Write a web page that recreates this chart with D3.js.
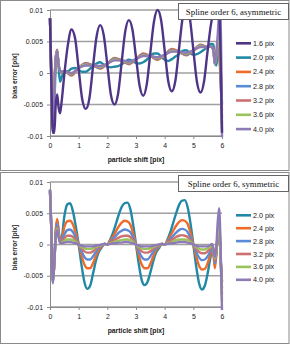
<!DOCTYPE html>
<html>
<head>
<meta charset="utf-8">
<script src="https://cdn.jsdelivr.net/npm/d3@7"></script>
<style>
  body { margin: 0; background: #fff; }
  svg { display: block; }
</style>
</head>
<body>
<div id="chart"></div>
<script>
// ---- data ----

const yTicks = [-0.01, -0.005, 0, 0.005, 0.01];
const yTickLabels = ["-0.01", "-0.005", "0", "0.005", "0.01"];
const xTicks = [0, 1, 2, 3, 4, 5, 6];

// top panel (asymmetric), fine grid for 1.6 and 2.0 pix
const shiftA = [0, 0.05, 0.1, 0.15, 0.2, 0.25, 0.3, 0.35, 0.4,
  0.5, 0.625, 0.75, 0.875, 1, 1.125, 1.25, 1.375, 1.5, 1.625, 1.75, 1.875,
  2, 2.125, 2.25, 2.375, 2.5, 2.625, 2.75, 2.875, 3, 3.125, 3.25, 3.375, 3.5, 3.625, 3.75, 3.875,
  4, 4.125, 4.25, 4.375, 4.5, 4.625, 4.75, 4.875, 5, 5.125, 5.25, 5.375, 5.5,
  5.625, 5.7, 5.75, 5.8, 5.85, 5.9, 5.95, 6];
const asym16 = [0.0087, -0.002, -0.0095, -0.0095, -0.005, -0.0034, -0.0055, -0.0064, -0.0048,
  -0.0002, 0.0045, 0.0069, 0.0055, 0.0006, -0.0042, -0.0057, -0.0040, 0.0010, 0.0058, 0.0076, 0.0060,
  0.0013, -0.0035, -0.0050, -0.0033, 0.0017, 0.0066, 0.0084, 0.0069, 0.0025, -0.0020, -0.0036, -0.0018, 0.0032, 0.0081, 0.0100, 0.0084,
  0.0036, -0.0013, -0.0029, -0.0012, 0.0038, 0.0087, 0.0105, 0.0088, 0.0037, -0.0014, -0.0031, -0.0013, 0.0036,
  0.0080, 0.0095, 0.0097, 0.0090, 0.0086, 0.0094, 0.0030, -0.0095];
const asym20 = [0.0087, -0.001, -0.0065, -0.005, 0.0015, 0.0035, 0.001, -0.0014, -0.0008,
  0.0003, 0.0003, 0.0007, 0.0008, 0.0005, 0.0002, 0.0002, 0.0006, 0.0011, 0.0015, 0.0017, 0.0013,
  0.0010, 0.0009, 0.0010, 0.0011, 0.0014, 0.0018, 0.0021, 0.0019, 0.0016, 0.0015, 0.0017, 0.0021, 0.0027, 0.0031, 0.0031, 0.0026,
  0.0021, 0.0019, 0.0022, 0.0026, 0.0030, 0.0035, 0.0036, 0.0032, 0.0029, 0.0030, 0.0033, 0.0037, 0.0041,
  0.0046, 0.0045, 0.0020, 0.0012, 0.0030, 0.0038, 0.0010, -0.0050];

// top panel, coarser grid for the 2.4 - 4.0 pix band
const shiftB = [0, 0.05, 0.1, 0.15, 0.2, 0.25, 0.3, 0.4,
  0.5, 0.75, 1, 1.25, 1.5, 1.75, 2, 2.25, 2.5, 2.75, 3, 3.25, 3.5, 3.75, 4, 4.25, 4.5, 4.75, 5, 5.25, 5.5,
  5.6, 5.7, 5.75, 5.8, 5.85, 5.9, 5.95, 6];
const asym24 = [0.0087, -0.001, -0.0068, -0.002, 0.0025, 0.0037, 0.0012, 0.0001,
  0.0003, -0.0004, 0.0008, 0.0016, 0.0012, 0.0007, 0.0015, 0.0024, 0.0020, 0.0014, 0.0022, 0.0031, 0.0027, 0.0021, 0.0029, 0.0038, 0.0034, 0.0028, 0.0036, 0.0045, 0.0041,
  0.0042, 0.0038, 0.0014, 0.0025, 0.0040, 0.0030, -0.0010, -0.0060];
const asym28 = [0.0087, -0.001, -0.0070, -0.0022, 0.0024, 0.0036, 0.0012, 0.0002,
  0.0003, -0.0003, 0.0008, 0.0015, 0.0012, 0.0008, 0.0015, 0.0023, 0.0020, 0.0015, 0.0022, 0.0030, 0.0027, 0.0022, 0.0029, 0.0037, 0.0034, 0.0029, 0.0036, 0.0044, 0.0041,
  0.0042, 0.0037, 0.0014, 0.0027, 0.0042, 0.0035, -0.0005, -0.0070];
const asym32 = [0.0087, -0.0015, -0.0075, -0.0024, 0.0023, 0.0035, 0.0012, 0.0002,
  0.0003, -0.0002, 0.0008, 0.0014, 0.0012, 0.0009, 0.0015, 0.0022, 0.0020, 0.0016, 0.0022, 0.0029, 0.0027, 0.0023, 0.0029, 0.0036, 0.0034, 0.0030, 0.0036, 0.0043, 0.0041,
  0.0042, 0.0037, 0.0015, 0.0028, 0.0045, 0.0045, 0.0005, -0.0080];
const asym36 = [0.0087, -0.002, -0.0080, -0.0026, 0.0022, 0.0034, 0.0012, 0.0002,
  0.0003, -0.0001, 0.0008, 0.0013, 0.0012, 0.0010, 0.0015, 0.0021, 0.0020, 0.0017, 0.0022, 0.0028, 0.0027, 0.0024, 0.0029, 0.0035, 0.0034, 0.0031, 0.0036, 0.0042, 0.0041,
  0.0042, 0.0036, 0.0015, 0.0029, 0.0050, 0.0060, 0.0020, -0.0090];
const asym40 = [0.0087, -0.003, -0.0095, -0.0030, 0.0020, 0.0034, 0.0012, 0.0002,
  0.0003, 0.0000, 0.0008, 0.0012, 0.0012, 0.0011, 0.0015, 0.0020, 0.0020, 0.0018, 0.0022, 0.0027, 0.0027, 0.0025, 0.0029, 0.0034, 0.0034, 0.0032, 0.0036, 0.0041, 0.0041,
  0.0042, 0.0036, 0.0015, 0.0032, 0.0060, 0.0092, 0.0085, -0.0102];

// bottom panel (symmetric)
const shiftC = [0, 0.05, 0.1, 0.15, 0.2, 0.25, 0.3, 0.35,
  0.4, 0.5, 0.6, 0.7, 0.8, 0.9,
  1.0, 1.1, 1.2, 1.3, 1.4, 1.5, 1.6, 1.7, 1.8, 1.9,
  2.0, 2.1, 2.2, 2.3, 2.4, 2.5, 2.6, 2.7, 2.8, 2.9,
  3.0, 3.1, 3.2, 3.3, 3.4, 3.5, 3.6, 3.7, 3.8, 3.9,
  4.0, 4.1, 4.2, 4.3, 4.4, 4.5, 4.6, 4.7, 4.8, 4.9,
  5.0, 5.1, 5.2, 5.3, 5.4, 5.5, 5.6,
  5.65, 5.7, 5.75, 5.8, 5.85, 5.9, 5.95, 6];
const sym20 = [0.0085, 0.0020, -0.0055, -0.0030, 0.0020, 0.0038, 0.0022, 0.0006,
  0.0008, 0.0045, 0.0064, 0.0066, 0.0053, 0.0029,
  0.0000, -0.0033, -0.0060, -0.0071, -0.0066, -0.0047, -0.0026, -0.0012, -0.0005, 0.0001,
  0.0000, 0.0008, 0.0019, 0.0033, 0.0048, 0.0060, 0.0066, 0.0067, 0.0057, 0.0032,
  0.0000, -0.0032, -0.0057, -0.0065, -0.0060, -0.0045, -0.0027, -0.0013, -0.0006, 0.0001,
  0.0000, 0.0008, 0.0020, 0.0035, 0.0050, 0.0063, 0.0070, 0.0071, 0.0060, 0.0034,
  0.0000, -0.0035, -0.0062, -0.0072, -0.0066, -0.0046, -0.0020,
  -0.0010, -0.0012, -0.0030, -0.0015, 0.0015, 0.0030, -0.0020, -0.0060];
const sym24 = [0.0086, 0.0020, -0.0058, -0.0030, 0.0022, 0.0041, 0.0022, 0.0005,
  0.0006, 0.0028, 0.0037, 0.0038, 0.0032, 0.0018,
  0.0000, -0.0018, -0.0032, -0.0038, -0.0038, -0.0030, -0.0018, -0.0009, -0.0004, 0.0001,
  0.0000, 0.0006, 0.0013, 0.0021, 0.0029, 0.0035, 0.0038, 0.0037, 0.0032, 0.0018,
  0.0000, -0.0018, -0.0032, -0.0038, -0.0038, -0.0031, -0.0019, -0.0009, -0.0004, 0.0001,
  0.0000, 0.0006, 0.0014, 0.0022, 0.0030, 0.0036, 0.0039, 0.0038, 0.0033, 0.0019,
  0.0000, -0.0019, -0.0034, -0.0040, -0.0039, -0.0030, -0.0015,
  -0.0006, -0.0015, -0.0038, -0.0018, 0.0015, 0.0030, -0.0020, -0.0060];
const sym28 = [0.0087, 0.0020, -0.0060, -0.0030, 0.0018, 0.0033, 0.0018, 0.0004,
  0.0005, 0.0016, 0.0023, 0.0024, 0.0020, 0.0011,
  0.0000, -0.0011, -0.0020, -0.0024, -0.0024, -0.0019, -0.0012, -0.0006, -0.0003, 0.0001,
  0.0000, 0.0004, 0.0009, 0.0014, 0.0019, 0.0022, 0.0024, 0.0023, 0.0020, 0.0011,
  0.0000, -0.0011, -0.0020, -0.0024, -0.0024, -0.0019, -0.0012, -0.0006, -0.0003, 0.0001,
  0.0000, 0.0004, 0.0009, 0.0014, 0.0019, 0.0023, 0.0025, 0.0024, 0.0020, 0.0011,
  0.0000, -0.0012, -0.0021, -0.0025, -0.0024, -0.0019, -0.0010,
  -0.0004, -0.0012, -0.0030, -0.0015, 0.0015, 0.0035, -0.0020, -0.0070];
const sym32 = [0.0087, 0.0020, -0.0060, -0.0030, 0.0015, 0.0028, 0.0015, 0.0004,
  0.0004, 0.0010, 0.0014, 0.0014, 0.0012, 0.0007,
  0.0000, -0.0006, -0.0011, -0.0013, -0.0013, -0.0011, -0.0007, -0.0004, -0.0002, 0.0001,
  0.0000, 0.0003, 0.0006, 0.0009, 0.0011, 0.0013, 0.0014, 0.0014, 0.0012, 0.0007,
  0.0000, -0.0006, -0.0011, -0.0013, -0.0013, -0.0011, -0.0007, -0.0004, -0.0002, 0.0001,
  0.0000, 0.0003, 0.0006, 0.0009, 0.0012, 0.0014, 0.0015, 0.0014, 0.0012, 0.0007,
  0.0000, -0.0007, -0.0012, -0.0014, -0.0014, -0.0011, -0.0006,
  -0.0002, -0.0010, -0.0026, -0.0012, 0.0018, 0.0040, -0.0020, -0.0080];
const sym36 = [0.0088, 0.0020, -0.0061, -0.0030, 0.0013, 0.0025, 0.0013, 0.0003,
  0.0003, 0.0006, 0.0008, 0.0008, 0.0007, 0.0004,
  0.0000, -0.0004, -0.0006, -0.0007, -0.0007, -0.0006, -0.0004, -0.0002, -0.0001, 0.0001,
  0.0000, 0.0002, 0.0003, 0.0005, 0.0006, 0.0007, 0.0008, 0.0008, 0.0007, 0.0004,
  0.0000, -0.0004, -0.0006, -0.0007, -0.0007, -0.0006, -0.0004, -0.0002, -0.0001, 0.0001,
  0.0000, 0.0002, 0.0003, 0.0005, 0.0007, 0.0008, 0.0008, 0.0008, 0.0007, 0.0004,
  0.0000, -0.0004, -0.0007, -0.0008, -0.0008, -0.0006, -0.0003,
  0.0000, -0.0008, -0.0022, -0.0010, 0.0020, 0.0045, -0.0020, -0.0090];
const sym40 = [0.0088, 0.0020, -0.0062, -0.0030, 0.0012, 0.0023, 0.0012, 0.0003,
  0.0002, 0.0003, 0.0004, 0.0004, 0.0003, 0.0002,
  0.0000, -0.0002, -0.0003, -0.0003, -0.0003, -0.0003, -0.0002, -0.0001, 0.0000, 0.0001,
  0.0000, 0.0001, 0.0002, 0.0002, 0.0003, 0.0003, 0.0004, 0.0004, 0.0003, 0.0002,
  0.0000, -0.0002, -0.0003, -0.0003, -0.0003, -0.0003, -0.0002, -0.0001, 0.0000, 0.0001,
  0.0000, 0.0001, 0.0002, 0.0002, 0.0003, 0.0004, 0.0004, 0.0004, 0.0003, 0.0002,
  0.0000, -0.0002, -0.0003, -0.0003, -0.0003, -0.0003, -0.0001,
  0.0001, -0.0006, -0.0020, -0.0005, 0.0035, 0.0058, 0.0000, -0.0105];

const colors = {
  "1.6 pix": "#4e3587", "2.0 pix": "#2189a6", "2.4 pix": "#ef6b2b", "2.8 pix": "#5b8ad6",
  "3.2 pix": "#cc7070", "3.6 pix": "#9bc35b", "4.0 pix": "#8f7ab8"
};

const width = 290, height = 345;

const svg = d3.select("#chart").append("svg")
  .attr("width", width)
  .attr("height", height);

const x = d3.scaleLinear().domain([0, 6]).range([50, 222]);

function drawPanel(p) {
  const g = svg.append("g");

  // chart area frame
  g.append("rect")
    .attr("x", 0.5).attr("y", p.boxTop + 0.5)
    .attr("width", 288.5).attr("height", p.boxHeight)
    .attr("fill", "#fff").attr("stroke", "#8a8a8a");

  const y = d3.scaleLinear().domain([-0.01, 0.01]).range(p.yRange);

  // horizontal gridlines
  g.append("g").selectAll("line")
    .data(yTicks)
    .join("line")
    .attr("x1", x(0)).attr("x2", x(6))
    .attr("y1", d => y(d)).attr("y2", d => y(d))
    .attr("stroke", "#a0a0a0").attr("stroke-width", 1.6);

  // y axis
  const yAxis = g.append("g")
    .attr("transform", `translate(${x(0)},0)`)
    .call(d3.axisLeft(y).tickValues(yTicks)
      .tickFormat((d, i) => yTickLabels[i])
      .tickSize(3).tickSizeOuter(0).tickPadding(4));
  yAxis.select(".domain").attr("stroke", "#8a8a8a");
  yAxis.selectAll(".tick line").attr("stroke", "#8a8a8a");
  yAxis.selectAll("text").attr("font-family", "Liberation Sans, Arial, sans-serif")
    .attr("font-size", 6.9).attr("fill", "#1a1a1a");

  // x axis at the bottom of the plot
  const xAxis = g.append("g")
    .attr("transform", `translate(0,${y(-0.01)})`)
    .call(d3.axisBottom(x).tickValues(xTicks).tickFormat(d3.format("d"))
      .tickSize(3).tickSizeOuter(0).tickPadding(4));
  xAxis.select(".domain").attr("stroke", "#8a8a8a");
  xAxis.selectAll(".tick line").attr("stroke", "#8a8a8a");
  xAxis.selectAll("text").attr("font-family", "Liberation Sans, Arial, sans-serif")
    .attr("font-size", 6.9).attr("fill", "#1a1a1a");

  // axis titles
  g.append("text")
    .attr("x", 136).attr("y", y(-0.01) + 25.5)
    .attr("text-anchor", "middle")
    .attr("font-family", "Liberation Sans, Arial, sans-serif")
    .attr("font-size", 6.8).attr("font-weight", "bold").attr("fill", "#1a1a1a")
    .text("particle shift [pix]");
  g.append("text")
    .attr("transform", `translate(17,${y(0) + 3}) rotate(-90)`)
    .attr("text-anchor", "middle")
    .attr("font-family", "Liberation Sans, Arial, sans-serif")
    .attr("font-size", 6.5).attr("font-weight", "bold").attr("fill", "#1a1a1a")
    .text("bias error [pix]");

  // data lines
  const line = d3.line()
    .x(d => x(d[0]))
    .y(d => y(d[1]))
    .curve(d3.curveMonotoneX);

  g.append("g").selectAll("path")
    .data(p.drawOrder)
    .join("path")
    .attr("d", s => line(d3.zip(s.shift, s.values)))
    .attr("fill", "none")
    .attr("stroke", s => colors[s.name])
    .attr("stroke-width", 2.4)
    .attr("stroke-linejoin", "round");

  // legend
  const leg = g.append("g").selectAll("g")
    .data(p.series)
    .join("g")
    .attr("transform", (s, i) => `translate(236,${p.legendTop + i * p.legendStep})`);
  leg.append("line")
    .attr("x1", 0).attr("x2", 15)
    .attr("stroke", s => colors[s.name])
    .attr("stroke-width", 2.6);
  leg.append("text")
    .attr("x", 17).attr("dy", "0.35em")
    .attr("font-family", "Liberation Sans, Arial, sans-serif")
    .attr("font-size", 7.2).attr("fill", "#1a1a1a")
    .text(s => s.name);

  // title box
  g.append("rect")
    .attr("x", 178.5).attr("y", p.boxTop + 3.5)
    .attr("width", 110).attr("height", 16)
    .attr("fill", "#fff").attr("stroke", "#666");
  g.append("text")
    .attr("x", 233.5).attr("y", p.boxTop + 15)
    .attr("text-anchor", "middle")
    .attr("font-family", "Liberation Serif, Times New Roman, serif")
    .attr("font-size", 8.8).attr("fill", "#111")
    .text(p.title);
}

const topSeries = [
  { name: "1.6 pix", shift: shiftA, values: asym16 },
  { name: "2.0 pix", shift: shiftA, values: asym20 },
  { name: "2.4 pix", shift: shiftB, values: asym24 },
  { name: "2.8 pix", shift: shiftB, values: asym28 },
  { name: "3.2 pix", shift: shiftB, values: asym32 },
  { name: "3.6 pix", shift: shiftB, values: asym36 },
  { name: "4.0 pix", shift: shiftB, values: asym40 }
];
const bottomSeries = [
  { name: "2.0 pix", shift: shiftC, values: sym20 },
  { name: "2.4 pix", shift: shiftC, values: sym24 },
  { name: "2.8 pix", shift: shiftC, values: sym28 },
  { name: "3.2 pix", shift: shiftC, values: sym32 },
  { name: "3.6 pix", shift: shiftC, values: sym36 },
  { name: "4.0 pix", shift: shiftC, values: sym40 }
];

drawPanel({
  boxTop: 0, boxHeight: 170,
  yRange: [136, 10],
  series: topSeries,
  // the 1.6 pix curve sits over the band in the picture
  drawOrder: topSeries.slice(1).concat([topSeries[0]]),
  legendTop: 43.3, legendStep: 14.3,
  title: "Spline order 6, asymmetric"
});

drawPanel({
  boxTop: 172, boxHeight: 171,
  yRange: [307, 182],
  series: bottomSeries,
  drawOrder: bottomSeries,
  legendTop: 215.3, legendStep: 12.9,
  title: "Spline order 6, symmetric"
});
</script>
</body>
</html>
